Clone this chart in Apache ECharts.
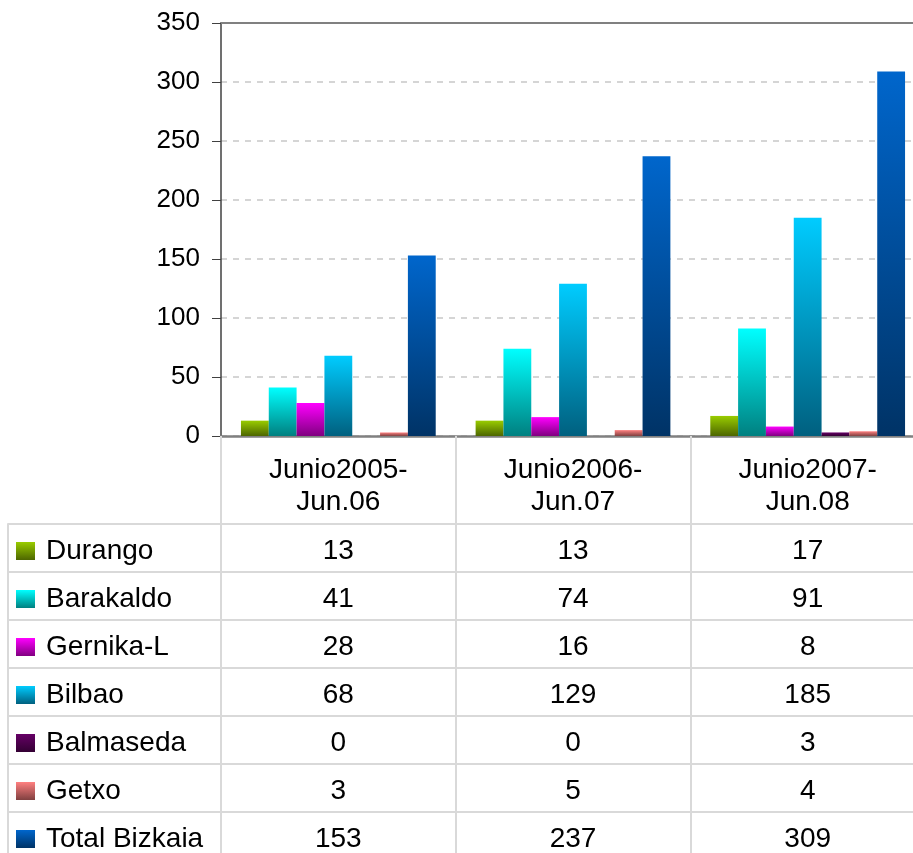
<!DOCTYPE html>
<html>
<head>
<meta charset="utf-8">
<script src="https://cdn.jsdelivr.net/npm/echarts@6/dist/echarts.min.js"></script>
<style>
  html, body { margin: 0; padding: 0; background: #fff; }
  #chart { width: 913px; height: 853px; }
</style>
</head>
<body>
<div id="chart"></div>
<script>
const categories = ['Junio2005-\nJun.06', 'Junio2006-\nJun.07', 'Junio2007-\nJun.08'];
const towns = ['Durango', 'Barakaldo', 'Gernika-L', 'Bilbao', 'Balmaseda', 'Getxo', 'Total Bizkaia'];
const durango = [13, 13, 17];
const barakaldo = [41, 74, 91];
const gernika = [28, 16, 8];
const bilbao = [68, 129, 185];
const balmaseda = [0, 0, 3];
const getxo = [3, 5, 4];
const totalBizkaia = [153, 237, 309];
const yMin = 0, yMax = 350, yStep = 50;

const values = [durango, barakaldo, gernika, bilbao, balmaseda, getxo, totalBizkaia];
// top -> bottom of each bar
const colors = [
  ['#99CC00', '#4D6600'],
  ['#00FFFF', '#008080'],
  ['#FF00FF', '#800080'],
  ['#00CCFF', '#00607F'],
  ['#660066', '#330033'],
  ['#FF8080', '#804040'],
  ['#0066CC', '#003366'],
];

const font = "'Liberation Sans', Arial, sans-serif";
const lineGrey = '#d9d9d9';

const grad = (c) => new echarts.graphic.LinearGradient(0, 0, 0, 1, [
  { offset: 0, color: c[0] },
  { offset: 1, color: c[1] },
]);

const barSeries = towns.map((name, i) => ({
  name: name,
  type: 'bar',
  xAxisIndex: 0,
  yAxisIndex: 0,
  barGap: '0%',
  barCategoryGap: '17%',
  itemStyle: { color: grad(colors[i]) },
  data: values[i],
}));

// table cells
const cells = [];
towns.forEach((name, i) => {
  categories.forEach((c, j) => {
    cells.push([c, name, values[i][j]]);
  });
});

const chart = echarts.init(document.getElementById('chart'));
chart.setOption({
  animation: false,
  backgroundColor: '#fff',
  textStyle: { fontFamily: font },
  legend: {
    data: towns,
    orient: 'vertical',
    left: 16,
    top: 537,
    height: 400,
    padding: 0,
    itemWidth: 19,
    itemHeight: 18,
    itemGap: 20,
    icon: 'rect',
    selectedMode: false,
    textStyle: { fontSize: 28, color: '#000', fontFamily: font, padding: [0, 0, 0, 6] },
  },
  grid: [
    { left: 221, top: 23, width: 704, height: 413, outerBoundsMode: 'none' },
    { left: 221, top: 524, width: 704, height: 336, outerBoundsMode: 'none' },
  ],
  xAxis: [
    {
      type: 'category',
      gridIndex: 0,
      data: categories,
      axisLine: { lineStyle: { color: '#808080', width: 2.5 } },
      axisTick: { show: true, length: 88, lineStyle: { color: lineGrey, width: 2 } },
      axisLabel: { interval: 0, margin: 18, fontSize: 28, lineHeight: 32, color: '#000', fontFamily: font },
      splitLine: { show: false },
    },
    {
      type: 'category',
      gridIndex: 0,
      position: 'top',
      data: categories,
      axisLine: { lineStyle: { color: '#808080', width: 2 } },
      axisTick: { show: false },
      axisLabel: { show: false },
    },
    {
      type: 'category',
      gridIndex: 1,
      data: categories,
      axisLine: { show: false },
      axisTick: { show: false },
      axisLabel: { show: false },
      splitLine: { show: true, lineStyle: { color: lineGrey, width: 2 } },
    },
  ],
  yAxis: [
    {
      type: 'value',
      gridIndex: 0,
      min: yMin,
      max: yMax,
      interval: yStep,
      axisLine: { show: true, lineStyle: { color: '#404040', width: 1.5 } },
      axisTick: { show: true, length: 9, lineStyle: { color: '#404040' } },
      axisLabel: { fontSize: 26, color: '#000', margin: 21, fontFamily: font },
      splitLine: { show: true, lineStyle: { color: '#c8c8c8', type: [6, 6], width: 1.5 } },
    },
    {
      type: 'category',
      gridIndex: 1,
      inverse: true,
      data: towns,
      axisLine: { show: false },
      axisTick: { show: true, length: 213, lineStyle: { color: lineGrey, width: 2 } },
      axisLabel: { show: false },
      splitLine: { show: true, lineStyle: { color: lineGrey, width: 2 } },
    },
    {
      type: 'category',
      gridIndex: 1,
      inverse: true,
      position: 'left',
      offset: 213,
      data: towns,
      axisLine: { show: true, lineStyle: { color: lineGrey, width: 2 } },
      axisTick: { show: false },
      axisLabel: { show: false },
    },
  ],
  series: barSeries.concat([
    {
      name: 'tabla',
      type: 'scatter',
      xAxisIndex: 2,
      yAxisIndex: 1,
      symbolSize: 1,
      itemStyle: { color: 'rgba(0,0,0,0)', opacity: 1 },
      label: {
        show: true,
        position: 'inside',
        offset: [0, 3],
        formatter: (p) => String(p.value[2]),
        fontSize: 28,
        color: '#000',
        opacity: 1,
        textBorderWidth: 0,
        fontFamily: font,
      },
      data: cells,
    },
  ]),
});
</script>
</body>
</html>
